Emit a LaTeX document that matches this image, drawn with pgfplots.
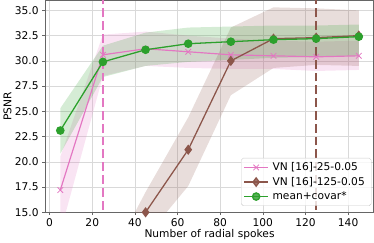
\documentclass[border=0pt]{standalone}
\usepackage{fontspec}
\setmainfont{DejaVu Sans}
\usepackage{pgfplots}
\pgfplotsset{compat=1.18}
\definecolor{tpink}{HTML}{E377C2}
\definecolor{tbrown}{HTML}{8C564B}
\definecolor{tgreen}{HTML}{2CA02C}
\begin{document}
\fontsize{10.8bp}{13bp}\selectfont
\begin{tikzpicture}
\begin{axis}[
  scale only axis,
  width=333bp, height=215bp,
  xmin=-2, xmax=152, ymin=15, ymax=36,
  xtick={0,20,40,60,80,100,120,140},
  ytick={15,17.5,20,22.5,25,27.5,30,32.5,35},
  yticklabel style={/pgf/number format/fixed,/pgf/number format/fixed zerofill,/pgf/number format/precision=1},
  /pgf/number format/assume math mode=true,
  tick label style={font=\fontsize{10.8bp}{13bp}\selectfont},
  label style={font=\fontsize{10.8bp}{13bp}\selectfont},
  xlabel={Number of radial spokes},
  ylabel={PSNR},
  xlabel style={yshift=5.5bp},
  ylabel style={yshift=-4bp},
  grid=major,
  major grid style={gray!30, line width=0.6bp},
  axis line style={gray!80!black, line width=0.6bp},
  tick style={gray!80!black, line width=0.6bp},
  tick align=outside,
  xtick pos=bottom, ytick pos=left,
  major tick length=3bp,
  clip=true,
  clip mode=individual,
  legend image code/.code={\draw[mark repeat=2,mark phase=2] plot coordinates {(0bp,0bp) (12bp,0bp) (24bp,0bp)};},
  legend style={at={(0.993,0.03)}, anchor=south east, font=\fontsize{10.8bp}{13bp}\selectfont, draw=gray!40, rounded corners=2bp, fill=white, fill opacity=0.8, text opacity=1, row sep=1bp, inner sep=2.5bp, nodes={inner xsep=4bp}},
  legend cell align=left,
]
% bands
\addplot[fill=tpink, fill opacity=0.2, draw=none, forget plot] coordinates {
 (5,20.5) (25,32.6) (45,32.9) (65,32.5) (85,32.2) (105,32.0) (125,31.9) (145,32.0)
 (145,29.1) (125,29.0) (105,29.2) (85,29.2) (65,29.3) (45,29.5) (25,28.5) (5,13.0)} -- cycle;
\addplot[fill=tbrown, fill opacity=0.2, draw=none, forget plot] coordinates {
 (5,7.0) (25,9.0) (45,17.0) (65,24.4) (85,33.3) (105,35.3) (125,35.2) (145,35.0)
 (145,29.5) (125,29.6) (105,29.3) (85,26.6) (65,17.6) (45,12.5) (25,5.0) (5,4.0)} -- cycle;
\addplot[fill=tgreen, fill opacity=0.2, draw=none, forget plot] coordinates {
 (5,25.3) (25,31.5) (45,32.8) (65,33.3) (85,33.4) (105,33.5) (125,33.5) (145,33.6)
 (145,30.5) (125,30.4) (105,30.3) (85,30.1) (65,29.9) (45,29.5) (25,28.4) (5,20.8)} -- cycle;
% vertical lines
\addplot[tpink, line width=2.4bp, dash pattern=on 9bp off 4bp, forget plot] coordinates {(25,14) (25,37)};
\addplot[tbrown, line width=2.4bp, dash pattern=on 9bp off 4bp, forget plot] coordinates {(125,14) (125,37)};
% lines
\addplot[tpink, line width=1.2bp, mark=x, mark size=4bp, mark options={line width=0.8bp}] coordinates {
 (5,17.2) (25,30.6) (45,31.2) (65,30.9) (85,30.6) (105,30.5) (125,30.4) (145,30.5)};
\addlegendentry{VN [16]-25-0.05}
\addplot[tbrown, line width=1.3bp, mark=diamond*, mark size=4.2bp] coordinates {
 (5,9.0) (25,10.0) (45,15.0) (65,21.2) (85,30.0) (105,32.2) (125,32.3) (145,32.5)};
\addlegendentry{VN [16]-125-0.05}
\addplot[tgreen, line width=1.3bp, mark=*, mark size=3.7bp] coordinates {
 (5,23.1) (25,29.9) (45,31.1) (65,31.7) (85,31.9) (105,32.1) (125,32.2) (145,32.4)};
\addlegendentry{mean+covar*}
\end{axis}
\end{tikzpicture}
\end{document}
